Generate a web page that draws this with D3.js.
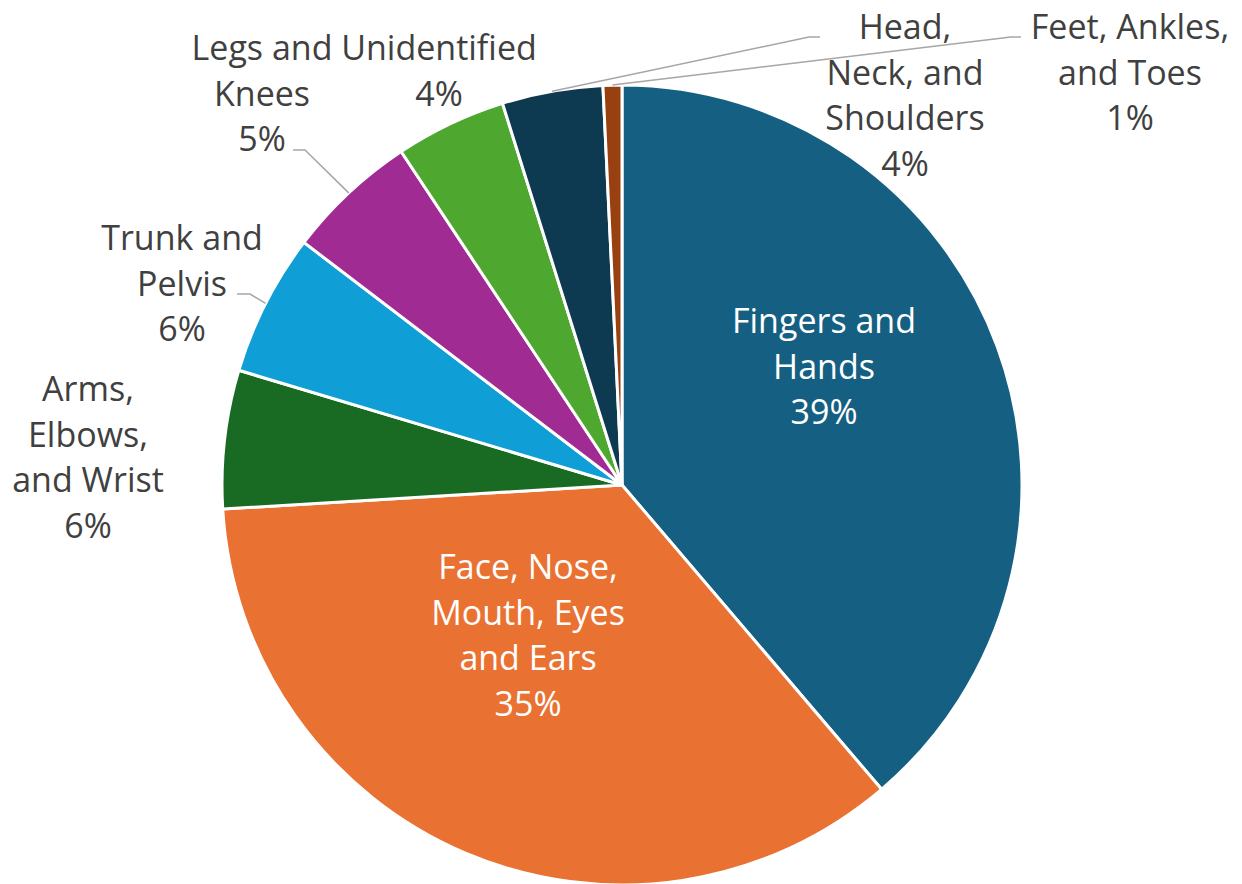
<!DOCTYPE html>
<html>
<head>
<meta charset="utf-8">
<script src="https://cdn.jsdelivr.net/npm/d3@7"></script>
<style>
  html, body { margin: 0; padding: 0; background: #ffffff; }
  svg { display: block; }
</style>
</head>
<body>
<svg id="chart" width="1242" height="884"></svg>
<script>
// Injury locations, share of all cases (percent), clockwise from 12 o'clock
const categories = [
  "Fingers and Hands",
  "Face, Nose, Mouth, Eyes and Ears",
  "Arms, Elbows, and Wrist",
  "Trunk and Pelvis",
  "Legs and Knees",
  "Unidentified",
  "Head, Neck, and Shoulders",
  "Feet, Ankles, and Toes"
];
const values = [38.76, 35.28, 5.59, 5.74, 5.32, 4.48, 4.07, 0.76];

// How each category name wraps inside its data label
const labelLines = [
  ["Fingers and", "Hands"],
  ["Face, Nose,", "Mouth, Eyes", "and Ears"],
  ["Arms,", "Elbows,", "and Wrist"],
  ["Trunk and", "Pelvis"],
  ["Legs and", "Knees"],
  ["Unidentified"],
  ["Head,", "Neck, and", "Shoulders"],
  ["Feet, Ankles,", "and Toes"]
];

const colors = ["#156082", "#E97132", "#196B24", "#0F9ED5", "#A02B93", "#4EA72E", "#0E3A51", "#984010"];

// Label placement relative to the pie centre: [dx of text centre, dy of first line centre]
const labelPos = [
  [202, -164], [-94, 82], [-534, -96], [-440, -247],
  [-360, -437], [-183, -437], [283, -458], [508, -458]
];
const inside = [true, true, false, false, false, false, false, false];
// Leader lines: elbow and end point relative to the centre (null = no leader)
const leaders = [
  null, null, null,
  { elbow: [-372, -191], end: [-385, -191] },
  { elbow: [-317, -335], end: [-329, -335] },
  null,
  { elbow: [187, -448], end: [198, -448] },
  { elbow: [389, -448], end: [399, -448] }
];

const cx = 622, cy = 485, radius = 400;
const fontSize = 34, lineHeight = 45.5;

const svg = d3.select("#chart");
const g = svg.append("g").attr("transform", `translate(${cx},${cy})`);

const data = categories.map((c, i) => ({ name: c, value: values[i], i }));
const total = d3.sum(values);

const pie = d3.pie().value(d => d.value).sort(null).startAngle(0).endAngle(2 * Math.PI);
const arc = d3.arc().innerRadius(0).outerRadius(radius);
const arcs = pie(data);

g.selectAll("path.slice")
  .data(arcs)
  .join("path")
  .attr("class", "slice")
  .attr("d", arc)
  .attr("fill", d => colors[d.data.i])
  .attr("stroke", "#ffffff")
  .attr("stroke-width", 3)
  .attr("stroke-linejoin", "round");

// Leader lines from the slice edge at its middle angle to the label
const edgePoint = d => {
  const a = (d.startAngle + d.endAngle) / 2;
  return [radius * Math.sin(a), -radius * Math.cos(a)];
};
g.selectAll("path.leader")
  .data(arcs.filter(d => leaders[d.data.i]))
  .join("path")
  .attr("class", "leader")
  .attr("fill", "none")
  .attr("stroke", "#A6A6A6")
  .attr("stroke-width", 1.5)
  .attr("d", d => {
    const L = leaders[d.data.i];
    return d3.line()([edgePoint(d), L.elbow, L.end]);
  });

// Data labels: category name plus rounded percentage
const labels = g.selectAll("text.label")
  .data(arcs)
  .join("text")
  .attr("class", "label")
  .attr("text-anchor", "middle")
  .attr("font-family", "'Open Sans', 'Noto Sans', sans-serif")
  .attr("font-size", fontSize)
  .attr("fill", d => inside[d.data.i] ? "#ffffff" : "#404040");

labels.each(function (d) {
  const i = d.data.i;
  const pct = Math.round(d.data.value / total * 100) + "%";
  const lines = labelLines[i].concat([pct]);
  const [dx, dy] = labelPos[i];
  d3.select(this).selectAll("tspan")
    .data(lines)
    .join("tspan")
    .attr("x", dx)
    .attr("y", (t, k) => dy + k * lineHeight + fontSize * 0.36)
    .text(t => t);
});
</script>
</body>
</html>
